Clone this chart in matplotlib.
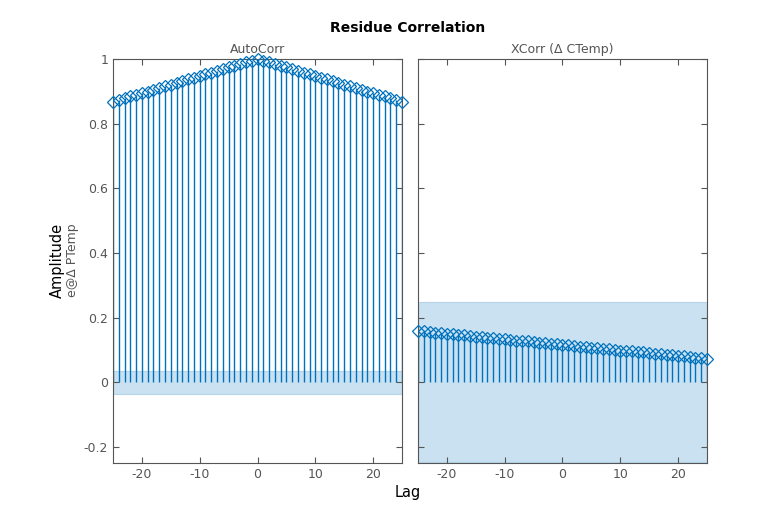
import matplotlib
matplotlib.use("Agg")
import matplotlib.pyplot as plt
import numpy as np

plt.rcParams['axes.unicode_minus'] = False

lags = list(range(-25, 26))

# autocorrelation of residue e (symmetric)
auto_half = [0.868, 0.873, 0.878, 0.884, 0.889, 0.894, 0.899, 0.905, 0.910, 0.915,
             0.921, 0.926, 0.931, 0.937, 0.942, 0.947, 0.952, 0.958, 0.963, 0.968,
             0.974, 0.979, 0.984, 0.990, 0.995]
auto_corr = auto_half + [1.0] + auto_half[::-1]

# cross correlation with delta CTemp
xcorr = [0.158, 0.157, 0.155, 0.153, 0.152, 0.150, 0.148, 0.146, 0.145, 0.143,
         0.141, 0.140, 0.138, 0.136, 0.134, 0.133, 0.131, 0.129, 0.128, 0.126,
         0.124, 0.122, 0.121, 0.119, 0.117, 0.116, 0.114, 0.112, 0.110, 0.109,
         0.107, 0.105, 0.104, 0.102, 0.100, 0.098, 0.097, 0.095, 0.093, 0.092,
         0.090, 0.088, 0.086, 0.085, 0.083, 0.081, 0.080, 0.078, 0.076, 0.074,
         0.073]

conf_auto = 0.036
conf_x = 0.248

blue = '#0072BD'
band = '#c9e1f0'
grey = '#555555'

fig = plt.figure(figsize=(7.8, 5.2), dpi=100)
ax1 = fig.add_axes([0.1449, 0.1096, 0.3705, 0.777])
ax2 = fig.add_axes([0.5359, 0.1096, 0.3705, 0.777])

def draw(ax, vals, conf, title):
    ax.fill_between([-25, 25], [-conf, -conf], [conf, conf], color=band, zorder=1, lw=0.8,
                    edgecolor='#b5d4ea')
    ml, sl, bl = ax.stem(lags, vals, basefmt=' ')
    plt.setp(sl, color=blue, linewidth=1.0, zorder=2)
    plt.setp(ml, marker='D', markersize=6, markerfacecolor='none',
             markeredgecolor=blue, markeredgewidth=0.9, zorder=3)
    ml.set_clip_on(False)
    ax.set_xlim(-25, 25)
    ax.set_ylim(-0.25, 1.0)
    ax.set_xticks([-20, -10, 0, 10, 20])
    ax.set_yticks([-0.2, 0, 0.2, 0.4, 0.6, 0.8, 1])
    ax.set_yticklabels(['-0.2', '0', '0.2', '0.4', '0.6', '0.8', '1'])
    ax.tick_params(direction='in', top=True, right=True, colors=grey, labelsize=9, length=4)
    for s in ax.spines.values():
        s.set_color(grey)
        s.set_linewidth(0.8)
    ax.set_title(title, color=grey, fontsize=9, pad=4)

draw(ax1, auto_corr, conf_auto, 'AutoCorr')
draw(ax2, xcorr, conf_x, 'XCorr (\u0394 CTemp)')
ax2.tick_params(labelleft=False)

fig.text(0.523, 0.946, 'Residue Correlation', ha='center', va='center',
         fontsize=10, fontweight='bold')
fig.text(0.523, 0.052, 'Lag', ha='center', va='center', fontsize=10.5)
fig.text(0.073, 0.5, 'Amplitude', rotation=90, ha='center', va='center', fontsize=10.5)
fig.text(0.093, 0.5, 'e@\u0394 PTemp', rotation=90, ha='center', va='center',
         fontsize=9, color=grey)

fig.savefig('out.png', dpi=100)
